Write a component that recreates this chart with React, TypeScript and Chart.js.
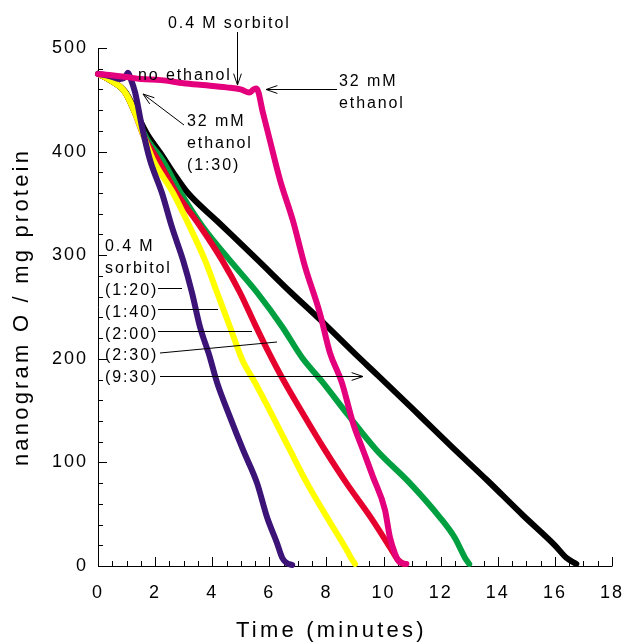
import React, { useEffect, useRef } from "react";
import { Chart, registerables } from "chart.js";

Chart.register(...registerables);

// ---------- data (time in minutes, nanogram O / mg protein) ----------
const magentaT = [0, 0.4, 1.0, 1.5, 2.2, 3.0, 3.8, 4.5, 5.0, 5.3, 5.45, 5.55, 5.78, 6.0, 6.37, 6.83, 7.25, 7.77, 8.12, 8.54, 8.93, 9.28, 9.63, 10.05, 10.22, 10.4, 10.55, 10.8];
const magentaV = [475, 474, 472, 470, 469, 466, 464, 462, 460, 457, 460, 461, 437, 413, 373, 333, 289, 244, 206, 177, 138, 112, 86, 54, 28, 12, 4, 2];

const purpleT = [0, 0.4, 0.8, 0.95, 1.05, 1.15, 1.3, 1.54, 1.82, 2.24, 2.59, 2.98, 3.29, 3.57, 3.89, 4.17, 4.62, 5.08, 5.57, 5.92, 6.27, 6.45, 6.6, 6.8];
const purpleV = [475, 473, 470, 472, 476, 470, 457, 424, 392, 360, 327, 295, 264, 231, 204, 177, 144, 112, 80, 47, 22, 8, 3, 1];

const yellowT = [0, 0.3, 0.6, 0.8, 1.0, 1.3, 1.6, 1.93, 2.63, 3.22, 3.75, 4.17, 4.62, 5.05, 5.5, 6.13, 6.72, 7.32, 8.02, 8.72, 8.9, 9.0];
const yellowV = [475, 471, 466, 462, 455, 437, 415, 392, 360, 327, 295, 264, 231, 199, 177, 144, 112, 80, 47, 15, 6, 2];

const redT = [0, 0.3, 0.6, 0.8, 1.0, 1.3, 1.6, 2.1, 2.75, 3.6, 4.35, 4.97, 5.5, 6.0, 6.5, 7.2, 7.9, 8.7, 9.55, 10.25, 10.5, 10.7];
const redV = [475, 471, 466, 462, 455, 437, 415, 392, 360, 327, 295, 264, 233, 205, 179, 146, 114, 80, 47, 17, 6, 2];

const greenT = [0, 0.3, 0.6, 0.8, 1.0, 1.3, 1.7, 2.25, 2.9, 3.68, 4.62, 5.57, 6.45, 7.15, 7.85, 8.75, 9.75, 10.92, 11.97, 12.5, 12.85, 13.0];
const greenV = [475, 471, 466, 462, 455, 437, 413, 392, 360, 327, 295, 264, 231, 201, 178, 146, 112, 80, 47, 27, 8, 2];

const blackT = [0, 0.3, 0.6, 0.8, 1.0, 1.3, 1.7, 2.2, 2.7, 3.15, 4.17, 5.57, 6.72, 7.77, 9.07, 9.8, 11.27, 12.43, 13.62, 14.88, 16.0, 16.4, 16.75];
const blackV = [475, 471, 466, 462, 456, 440, 418, 398, 377, 360, 333, 296, 265, 238, 203, 184, 145, 114, 83, 49, 20, 8, 2];

const xTickStep = 2;
const yTickStep = 100;

const pts = (t: number[], v: number[]) => t.map((x, i) => ({ x, y: v[i] }));

const FONT = '"Liberation Sans", Arial, Helvetica, sans-serif';

function arrowHead(ctx: CanvasRenderingContext2D, tx: number, ty: number, fx: number, fy: number) {
  const ang = Math.atan2(ty - fy, tx - fx);
  const len = 12;
  const spread = 0.33;
  ctx.beginPath();
  ctx.moveTo(tx - len * Math.cos(ang - spread), ty - len * Math.sin(ang - spread));
  ctx.lineTo(tx, ty);
  ctx.lineTo(tx - len * Math.cos(ang + spread), ty - len * Math.sin(ang + spread));
  ctx.stroke();
}

function line(ctx: CanvasRenderingContext2D, x1: number, y1: number, x2: number, y2: number) {
  ctx.beginPath();
  ctx.moveTo(x1, y1);
  ctx.lineTo(x2, y2);
  ctx.stroke();
}

const decorPlugin = {
  id: "decor",
  beforeDraw(chart: any) {
    chart.ctx.letterSpacing = "2px";
  },
  beforeDatasetsDraw(chart: any) {
    const ctx: CanvasRenderingContext2D = chart.ctx;
    const { left, right, top, bottom } = chart.chartArea;
    const xs = chart.scales.x;
    const ys = chart.scales.y;
    ctx.save();
    ctx.strokeStyle = "#000";
    ctx.lineWidth = 1;
    line(ctx, left + 0.5, top, left + 0.5, bottom + 0.5);
    line(ctx, left, bottom + 0.5, right + 0.5, bottom + 0.5);
    for (let v = 0; v <= 18 + 1e-9; v += 0.5) {
      const px = Math.round(xs.getPixelForValue(v)) + 0.5;
      const major = Math.abs(v / xTickStep - Math.round(v / xTickStep)) < 1e-6;
      line(ctx, px, bottom, px, bottom - (major ? 9 : 5));
    }
    for (let v = 0; v <= 500 + 1e-9; v += 20) {
      const py = Math.round(ys.getPixelForValue(v)) + 0.5;
      const major = v % yTickStep === 0;
      line(ctx, left, py, left + (major ? 9 : 5), py);
    }
    ctx.restore();
  },
  afterDraw(chart: any) {
    const ctx: CanvasRenderingContext2D = chart.ctx;
    ctx.save();
    ctx.fillStyle = "#000";
    ctx.strokeStyle = "#000";
    ctx.lineWidth = 1;
    ctx.textBaseline = "alphabetic";

    ctx.font = `22px ${FONT}`;
    ctx.letterSpacing = "3.2px";
    ctx.textAlign = "left";
    ctx.fillText("Time (minutes)", 236, 637);
    ctx.save();
    ctx.translate(28, 307);
    ctx.rotate(-Math.PI / 2);
    ctx.textAlign = "center";
    ctx.fillText("nanogram O / mg protein", 0, 0);
    ctx.restore();

    ctx.font = `16px ${FONT}`;
    ctx.letterSpacing = "1.9px";
    ctx.textAlign = "left";
    ctx.fillText("0.4 M sorbitol", 168, 28);
    line(ctx, 237.5, 32, 237.5, 85);
    arrowHead(ctx, 237.5, 85, 237.5, 32);

    ctx.fillText("no ethanol", 138, 80);

    ctx.fillText("32 mM", 339, 86);
    ctx.fillText("ethanol", 339, 108);
    line(ctx, 337, 89.5, 266, 89.5);
    arrowHead(ctx, 266, 89.5, 337, 89.5);

    ctx.fillText("32 mM", 187, 126);
    ctx.fillText("ethanol", 187, 148);
    ctx.fillText("(1:30)", 187, 170);
    line(ctx, 184, 125, 143, 94);
    arrowHead(ctx, 143, 94, 184, 125);

    const leftLabels = ["0.4 M", "sorbitol", "(1:20)", "(1:40)", "(2:00)", "(2:30)", "(9:30)"];
    const baselines = [251, 273, 295, 317, 339, 360, 382];
    leftLabels.forEach((s, i) => ctx.fillText(s, 105, baselines[i]));
    line(ctx, 158, 288.5, 182, 288.5);
    line(ctx, 158, 309.5, 218, 309.5);
    line(ctx, 158, 331.5, 252, 331.5);
    line(ctx, 160, 353, 277, 342);
    line(ctx, 160, 376.5, 363, 376.5);
    arrowHead(ctx, 363, 376.5, 160, 376.5);

    ctx.restore();
    ctx.letterSpacing = "0px";
  },
};

export default function App() {
  const ref = useRef<HTMLCanvasElement | null>(null);
  useEffect(() => {
    if (!ref.current) return;
    const mk = (label: string, t: number[], v: number[], color: string) => ({
      label,
      data: pts(t, v),
      borderColor: color,
      backgroundColor: color,
      borderWidth: 6,
      pointRadius: 0,
      showLine: true,
      fill: false,
      cubicInterpolationMode: "monotone" as const,
      borderCapStyle: "round" as const,
      borderJoinStyle: "round" as const,
      clip: false as any,
    });
    const chart = new Chart(ref.current, {
      type: "line",
      data: {
        datasets: [
          mk("no ethanol / 32 mM ethanol (5:30)", magentaT, magentaV, "#E4007C"),
          mk("sorbitol 1:20", purpleT, purpleV, "#3C1478"),
          mk("sorbitol 1:40", yellowT, yellowV, "#FFFF00"),
          mk("sorbitol 2:00", redT, redV, "#E6002D"),
          mk("sorbitol 2:30", greenT, greenV, "#00A040"),
          mk("sorbitol 9:30", blackT, blackV, "#000000"),
        ],
      },
      options: {
        responsive: false,
        maintainAspectRatio: false,
        animation: false,
        devicePixelRatio: 1,
        layout: { padding: { left: 0, right: 20, top: 48, bottom: 0 } },
        plugins: { legend: { display: false }, tooltip: { enabled: false }, title: { display: false } },
        scales: {
          x: {
            type: "linear",
            min: 0,
            max: 18,
            grid: { display: false, drawTicks: false },
            border: { display: false },
            ticks: { stepSize: xTickStep, color: "#000", font: { family: FONT, size: 18 }, padding: 16, maxRotation: 0 },
            afterFit: (s: any) => { s.height = 78; s.paddingLeft = 0; s.paddingRight = 0; },
          },
          y: {
            type: "linear",
            min: 0,
            max: 500,
            grid: { display: false, drawTicks: false },
            border: { display: false },
            ticks: { stepSize: yTickStep, color: "#000", font: { family: FONT, size: 18 }, padding: 10 },
            afterFit: (s: any) => { s.width = 98; s.paddingTop = 0; s.paddingBottom = 0; },
          },
        },
      },
      plugins: [decorPlugin],
    });
    return () => chart.destroy();
  }, []);
  return (
    <div style={{ position: "absolute", left: 0, top: 0, width: 632, height: 644, background: "#fff" }}>
      <canvas ref={ref} width={632} height={644} style={{ display: "block", width: 632, height: 644 }} />
    </div>
  );
}
